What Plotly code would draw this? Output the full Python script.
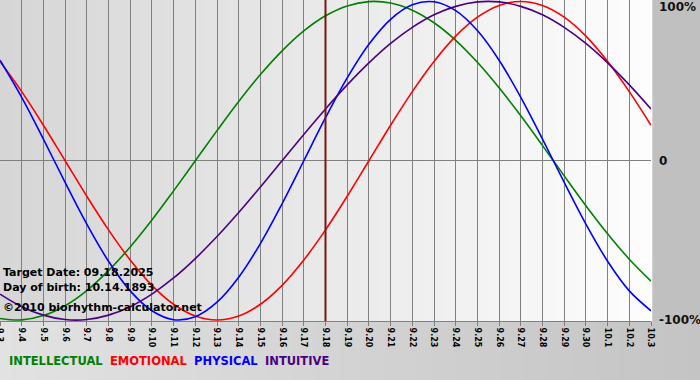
import plotly.graph_objects as go

dates = ["9.3", "9.4", "9.5", "9.6", "9.7", "9.8", "9.9", "9.10", "9.11", "9.12",
         "9.13", "9.14", "9.15", "9.16", "9.17", "9.18", "9.19", "9.20", "9.21", "9.22",
         "9.23", "9.24", "9.25", "9.26", "9.27", "9.28", "9.29", "9.30", "10.1", "10.2", "10.3"]

physical = [0.631, 0.398, 0.136, -0.136, -0.398, -0.631, -0.817, -0.942, -0.998, -0.979,
            -0.888, -0.731, -0.520, -0.270, 0.000, 0.270, 0.520, 0.731, 0.888, 0.979,
            0.998, 0.942, 0.817, 0.631, 0.398, 0.136, -0.136, -0.398, -0.631, -0.817, -0.942]
emotional = [0.623, 0.434, 0.223, 0.000, -0.223, -0.434, -0.623, -0.782, -0.901, -0.975,
             -1.000, -0.975, -0.901, -0.782, -0.623, -0.434, -0.223, 0.000, 0.223, 0.434,
             0.623, 0.782, 0.901, 0.975, 1.000, 0.975, 0.901, 0.782, 0.623, 0.434, 0.223]
intellectual = [-0.990, -0.999, -0.972, -0.910, -0.815, -0.690, -0.541, -0.372, -0.189, 0.000,
                0.189, 0.372, 0.541, 0.690, 0.815, 0.910, 0.972, 0.999, 0.990, 0.945,
                0.866, 0.756, 0.618, 0.458, 0.282, 0.095, -0.095, -0.282, -0.458, -0.618, -0.756]
intuitive = [-0.837, -0.916, -0.969, -0.997, -0.997, -0.969, -0.916, -0.837, -0.736, -0.614,
             -0.476, -0.325, -0.165, 0.000, 0.165, 0.325, 0.476, 0.614, 0.736, 0.837,
             0.916, 0.969, 0.997, 0.997, 0.969, 0.916, 0.837, 0.736, 0.614, 0.476, 0.325]

target_index = 15
y_tick_vals = [1, 0, -1]
y_tick_text = ["100%", "0", "-100%"]

series = [
    ("INTELLECTUAL", intellectual, "#008000"),
    ("EMOTIONAL", emotional, "#ff0000"),
    ("PHYSICAL", physical, "#0000ff"),
    ("INTUITIVE", intuitive, "#4b0082"),
]

xs = list(range(len(dates)))
fig = go.Figure()
for name, vals, col in series:
    fig.add_trace(go.Scatter(x=xs, y=vals, mode="lines", name=name,
                             line=dict(color=col, width=1.6, shape="spline", smoothing=1.0),
                             hoverinfo="skip"))

W, H = 700, 380
L, R, T, B = 0, 49, 0, 59
plot_h = H - T - B
shapes = []

def lerp(c1, c2, t):
    return "rgb(%d,%d,%d)" % tuple(round(a + (b - a) * t) for a, b in zip(c1, c2))

# plot-area gradient (left grey -> right white)
n = 60
for i in range(n):
    shapes.append(dict(type="rect", xref="paper", yref="paper", layer="below",
                       x0=i / n, x1=(i + 1) / n + 0.002, y0=0, y1=1,
                       line=dict(width=0), fillcolor=lerp((214, 214, 214), (253, 253, 253), i / (n - 1))))
# bottom band gradient (light left -> darker right)
yb = -B / plot_h
for i in range(n):
    shapes.append(dict(type="rect", xref="paper", yref="paper", layer="below",
                       x0=i / n * (W / (W - R)), x1=(i + 1) / n * (W / (W - R)) + 0.003,
                       y0=yb, y1=0, line=dict(width=0),
                       fillcolor=lerp((226, 226, 226), (196, 196, 196), i / (n - 1))))
# target date line
shapes.append(dict(type="line", xref="x", yref="paper", x0=target_index, x1=target_index,
                   y0=0, y1=1, line=dict(color="#7a1515", width=2), layer="above"))

annotations = []
for v, t in zip(y_tick_vals, y_tick_text):
    annotations.append(dict(x=1, xref="paper", y=v, yref="y", text="<b>%s</b>" % t,
                            xanchor="left", yanchor="middle", xshift=6,
                            yshift=-6 if v == 1 else 0,
                            showarrow=False, font=dict(family="DejaVu Sans", size=12, color="#111")))
info = ["Target Date: 09.18.2025", "Day of birth: 10.14.1893", "\u00a92010 biorhythm-calculator.net"]
info_y = [272, 287, 307]
for t, py in zip(info, info_y):
    annotations.append(dict(x=0, xref="paper", y=1 - (py - T) / plot_h, yref="paper",
                            text="<b>%s</b>" % t, xanchor="left", yanchor="middle", xshift=1,
                            showarrow=False, font=dict(family="DejaVu Sans", size=11, color="#000")))
# first date label sits on the left edge (partly cut off in the original)
annotations.append(dict(x=0, xref="x", y=0, yref="paper", text="<b>%s</b>" % dates[0],
                        textangle=90, xanchor="center", yanchor="top", yshift=-5,
                        showarrow=False, font=dict(family="DejaVu Sans", size=8, color="#000")))
legend_text = "&nbsp;&nbsp;".join('<span style="color:%s"><b>%s</b></span>' % (c, nm) for nm, _, c in series)
annotations.append(dict(x=0, xref="paper", y=1 - (361 - T) / plot_h, yref="paper",
                        text=legend_text, xanchor="left", yanchor="middle", xshift=7,
                        showarrow=False, font=dict(family="DejaVu Sans", size=11.5)))

fig.update_layout(
    width=W, height=H,
    margin=dict(l=L, r=R, t=T, b=B),
    paper_bgcolor="#c0c0c0",
    plot_bgcolor="rgba(0,0,0,0)",
    showlegend=False,
    shapes=shapes,
    annotations=annotations,
    xaxis=dict(range=[0, len(dates) - 1], tickvals=xs, ticktext=["<b>%s</b>" % d for d in dates],
               tickangle=90,
               showgrid=True, gridcolor="#808080", gridwidth=1,
               ticks="outside", ticklen=4, tickcolor="#808080",
               showline=True, linecolor="#808080", linewidth=1,
               zeroline=False, fixedrange=True,
               tickfont=dict(family="DejaVu Sans", size=8, color="#000")),
    yaxis=dict(range=[-1.006, 1.009], showgrid=False, showticklabels=False,
               zeroline=True, zerolinecolor="#808080", zerolinewidth=1, fixedrange=True),
)

fig.write_html("out.html", config={"displayModeBar": False},
               post_script="document.body.style.margin='0';document.body.style.overflow='hidden';")
